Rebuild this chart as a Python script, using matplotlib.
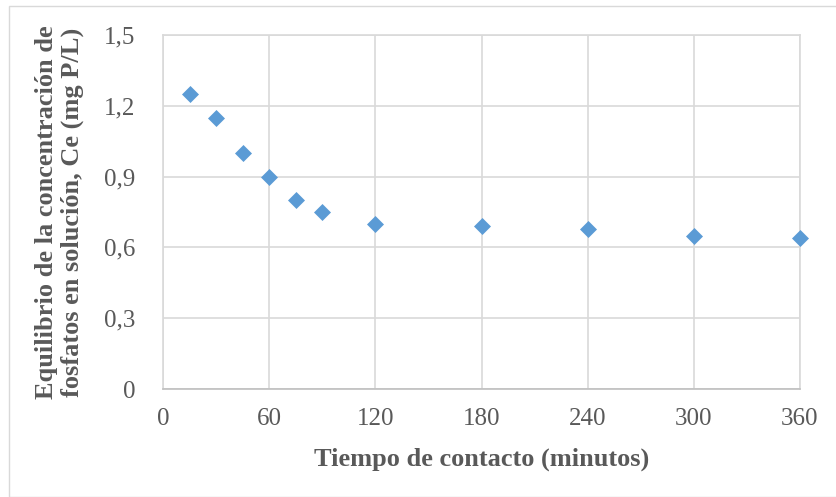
import matplotlib
matplotlib.use("Agg")
import matplotlib.pyplot as plt
from matplotlib.patches import Rectangle
from matplotlib.ticker import FuncFormatter

# Contact time (min) and equilibrium phosphate concentration (mg P/L)
tiempo = [15, 30, 45, 60, 75, 90, 120, 180, 240, 300, 360]
ce = [1.25, 1.15, 1.00, 0.90, 0.80, 0.75, 0.70, 0.69, 0.68, 0.65, 0.64]
x_ticks = [0, 60, 120, 180, 240, 300, 360]
y_ticks = [0, 0.3, 0.6, 0.9, 1.2, 1.5]

plt.rcParams['font.family'] = ['Liberation Serif', 'DejaVu Serif']

fig = plt.figure(figsize=(8.36, 4.97), dpi=100)
ax = fig.add_axes([163/836, 1 - 389/497, (800 - 163)/836, (389 - 35)/497])

# Outer chart border
fig.patches.append(Rectangle((9/836, 0), 1.2, 1 - 6/497, transform=fig.transFigure,
                             fill=False, edgecolor='#d9d9d9', linewidth=1.0))

ax.scatter(tiempo, ce, marker='D', s=75, color='#5b9bd5', zorder=3, linewidths=0,
           clip_on=False)

ax.set_xlim(0, 360)
ax.set_ylim(0, 1.5)
ax.set_xticks(x_ticks)
ax.set_yticks(y_ticks)
ax.yaxis.set_major_formatter(FuncFormatter(lambda v, p: ('%g' % round(v, 1)).replace('.', ',')))
ax.grid(True, color='#d9d9d9', linewidth=1.2)
ax.set_axisbelow(True)
for s in ax.spines.values():
    s.set_color('#d9d9d9')
    s.set_linewidth(1.2)
ax.spines['bottom'].set_color('#bfbfbf')
ax.tick_params(length=0, labelsize=18, labelcolor='#595959')
ax.tick_params(axis='y', pad=20)
ax.tick_params(axis='x', pad=14)

ax.set_xlabel('Tiempo de contacto (minutos)', fontsize=19, fontweight='bold',
              color='#595959', labelpad=12)
ax.set_ylabel('Equilibrio de la concentración de\nfosfatos en solución, Ce (mg P/L)',
              fontsize=19, fontweight='bold', color='#595959', labelpad=14,
              linespacing=1.15)

fig.savefig('out.png', dpi=100)
